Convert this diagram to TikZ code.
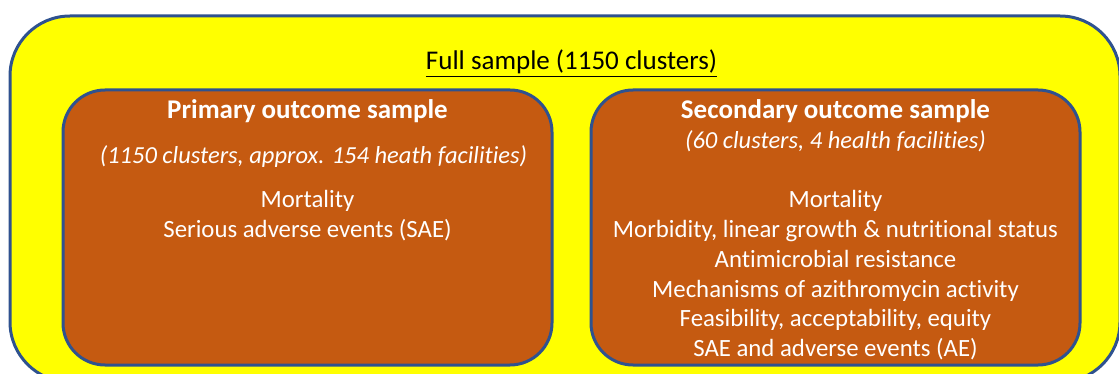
\documentclass[tikz,border=0pt]{standalone}
\usepackage{fontspec}
\setmainfont{Carlito}[Ligatures=NoCommon]
\definecolor{boxbrown}{HTML}{C55A11}
\definecolor{boxblue}{HTML}{2F528F}
\definecolor{fillyellow}{HTML}{FFFF00}
\tikzset{
  outerbox/.style={draw=boxblue, line width=3pt, fill=fillyellow, rounded corners=60pt, inner sep=0pt},
  innerbox/.style={draw=boxblue, line width=3pt, fill=boxbrown, rounded corners=42pt, inner sep=0pt},
  txt/.style={text=white, font=\fontsize{24.8}{28}\selectfont, inner sep=0pt, anchor=base},
  ttl/.style={text=white, font=\fontsize{27}{30}\selectfont\bfseries, inner sep=0pt, anchor=base},
  itl/.style={text=white, font=\fontsize{24.5}{28}\selectfont\itshape, inner sep=0pt, anchor=base},
}
\begin{document}
\begin{tikzpicture}[x=1pt,y=-1pt]
\useasboundingbox (0,0) rectangle (1119,374);
\clip (0,0) rectangle (1119,374);
\node[outerbox, minimum width=1110pt, minimum height=366pt] (outer) at (565,199) {};
\node[innerbox, minimum width=489pt, minimum height=275pt] (primary) at (307.5,227.5) {};
\node[innerbox, minimum width=489pt, minimum height=275pt] (secondary) at (835.5,227.5) {};
\node[txt, text=black, font=\fontsize{27}{30}\selectfont] (full) at (571.5,70) {\underline{Full sample (1150 clusters)}};
\node[ttl] (ptitle) at (307.5,119) {Primary outcome sample};
\node[itl] (psub) at (313.5,164) {(1150 clusters, approx. 154 heath facilities)};
\node[txt] (p1) at (307.5,208) {Mortality};
\node[txt] (p2) at (307.5,237) {Serious adverse events (SAE)};
\node[ttl] (stitle) at (835.5,119) {Secondary outcome sample};
\node[itl] (ssub) at (835.5,149) {(60 clusters, 4 health facilities)};
\node[txt] (s1) at (835.5,208) {Mortality};
\node[txt] (s2) at (835.5,237) {Morbidity, linear growth \& nutritional status};
\node[txt] (s3) at (835.5,267) {Antimicrobial resistance};
\node[txt] (s4) at (835.5,297) {Mechanisms of azithromycin activity};
\node[txt] (s5) at (835.5,326) {Feasibility, acceptability, equity};
\node[txt] (s6) at (835.5,356) {SAE and adverse events (AE)};
\end{tikzpicture}
\end{document}
